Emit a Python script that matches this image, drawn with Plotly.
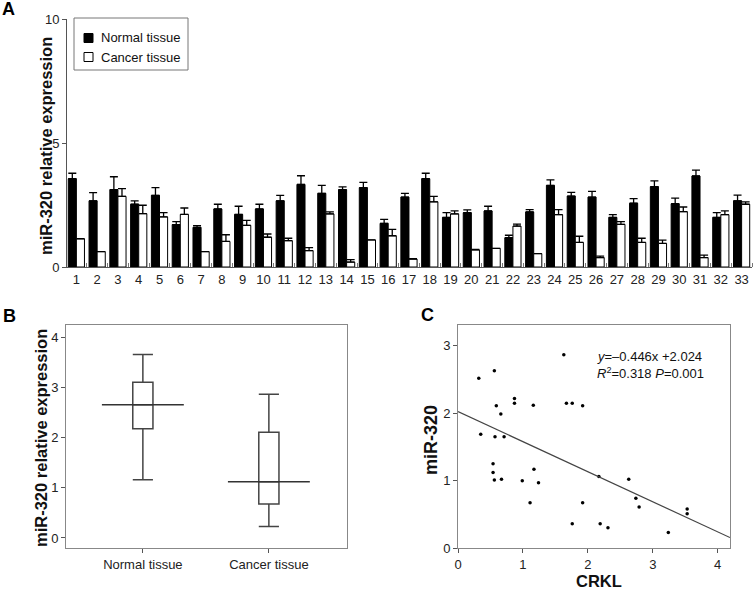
import plotly.graph_objects as go

# ---------------- Panel A data ----------------
samples = list(range(1, 34))
normal_vals = [3.56, 2.67, 3.12, 2.53, 2.89, 1.71, 1.60, 2.34, 2.12, 2.34, 2.67,
               3.33, 2.97, 3.12, 3.20, 1.76, 2.82, 3.56, 2.00, 2.19, 2.26, 1.18,
               2.22, 3.29, 2.86, 2.82, 2.00, 2.57, 3.24, 2.55, 3.67, 2.00, 2.67]
normal_err = [0.22, 0.33, 0.52, 0.14, 0.31, 0.12, 0.07, 0.19, 0.33, 0.19, 0.22,
              0.35, 0.32, 0.11, 0.21, 0.16, 0.15, 0.22, 0.19, 0.11, 0.19, 0.10,
              0.09, 0.22, 0.15, 0.23, 0.11, 0.19, 0.23, 0.23, 0.24, 0.19, 0.23]
cancer_vals = [1.14, 0.62, 2.85, 2.15, 2.02, 2.12, 0.62, 1.03, 1.68, 1.20, 1.06,
               0.66, 2.14, 0.20, 1.09, 1.26, 0.32, 2.63, 2.14, 0.69, 0.75, 1.65,
               0.54, 2.11, 0.99, 0.38, 1.72, 0.99, 0.95, 2.23, 0.38, 2.11, 2.53]
cancer_err = [0.0, 0.0, 0.31, 0.34, 0.17, 0.26, 0.0, 0.27, 0.20, 0.13, 0.10,
              0.12, 0.08, 0.10, 0.0, 0.26, 0.02, 0.22, 0.12, 0.02, 0.0, 0.08,
              0.0, 0.20, 0.25, 0.06, 0.11, 0.17, 0.13, 0.19, 0.10, 0.15, 0.10]
series_names = ["Normal tissue", "Cancer tissue"]

# ---------------- Panel B data ----------------
box_labels = ["Normal tissue", "Cancer tissue"]
box_pos = [0, 1]
box_low = [1.16, 0.23]
box_q1 = [2.18, 0.68]
box_median = [2.66, 1.12]
box_q3 = [3.11, 2.11]
box_high = [3.66, 2.87]

# ---------------- Panel C data ----------------
crkl = [0.32, 0.56, 0.35, 0.59, 0.66, 0.57, 0.71, 0.87, 0.87, 1.16, 0.54,
        0.54, 0.56, 0.67, 0.99, 1.17, 1.24, 1.11, 1.63, 1.67, 1.76, 1.92,
        1.92, 1.76, 2.17, 2.19, 2.31, 2.63, 2.74, 2.79, 3.24, 3.53, 3.53]
mir320 = [2.52, 2.63, 1.69, 2.11, 1.99, 1.65, 1.65, 2.22, 2.15, 2.12, 1.25,
          1.12, 1.01, 1.02, 1.00, 1.17, 0.97, 0.67, 2.87, 2.15, 2.15, 2.11,
          0.67, 0.36, 1.06, 0.36, 0.30, 1.02, 0.74, 0.61, 0.23, 0.58, 0.51]
slope = -0.446
intercept = 2.024
fit_x = [0, 4.19]

FONT = "Liberation Sans, Arial, sans-serif"
W, H = 754, 589


def px(x):
    return x / W


def py(y):
    return 1 - y / H


fig = go.Figure()

# Panel A bars
fig.add_trace(go.Bar(
    x=samples, y=normal_vals, name=series_names[0], showlegend=False,
    marker=dict(color="black", line=dict(color="black", width=1)),
    error_y=dict(type="data", array=normal_err, arrayminus=[0] * len(normal_err),
                 symmetric=False, color="black", thickness=1.3, width=4),
    xaxis="x", yaxis="y"))
fig.add_trace(go.Bar(
    x=samples, y=cancer_vals, name=series_names[1], showlegend=False,
    marker=dict(color="white", line=dict(color="black", width=1)),
    error_y=dict(type="data", array=cancer_err, arrayminus=[0] * len(cancer_err),
                 symmetric=False, color="black", thickness=1.3, width=4),
    xaxis="x", yaxis="y"))

# Panel B boxes
fig.add_trace(go.Box(
    x=box_pos, q1=box_q1, median=box_median, q3=box_q3,
    lowerfence=box_low, upperfence=box_high,
    fillcolor="white", line=dict(color="#444444", width=1.5),
    width=0.16, whiskerwidth=1, showlegend=False,
    xaxis="x2", yaxis="y2"))
med_x, med_y = [], []
for p, m in zip(box_pos, box_median):
    med_x += [p - 0.325, p + 0.325, None]
    med_y += [m, m, None]
fig.add_trace(go.Scatter(
    x=med_x, y=med_y, mode="lines", line=dict(color="#333333", width=1.5),
    showlegend=False, hoverinfo="skip", xaxis="x2", yaxis="y2"))

# Panel C scatter + fit
fig.add_trace(go.Scatter(
    x=crkl, y=mir320, mode="markers", marker=dict(color="black", size=3.5),
    showlegend=False, xaxis="x3", yaxis="y3"))
fig.add_trace(go.Scatter(
    x=fit_x, y=[intercept + slope * v for v in fit_x], mode="lines",
    line=dict(color="#444444", width=1.2), showlegend=False,
    xaxis="x3", yaxis="y3"))

axis_common = dict(showgrid=False, zeroline=False, showline=True, automargin=False,
                   ticks="outside", ticklen=4, tickcolor="#555555",
                   tickfont=dict(size=13, color="#222222", family=FONT))

fig.update_layout(
    width=W, height=H, margin=dict(l=0, r=0, t=0, b=0, autoexpand=False),
    paper_bgcolor="white", plot_bgcolor="white",
    font=dict(family=FONT, color="#222222"),
    barmode="group", bargap=0.22, bargroupgap=0, showlegend=False,
    xaxis=dict(domain=[px(67), px(752)], anchor="y", range=[0.55, 33.5],
               tickmode="array", tickvals=samples, ticktext=[str(s) for s in samples],
               showgrid=False, zeroline=False, showline=True, linecolor="#555555",
               automargin=False,
               ticks="", tickfont=dict(size=13, color="#222222", family=FONT),
               minor=dict(tick0=0.5, dtick=1, ticks="inside", ticklen=4,
                          tickcolor="#777777", showgrid=False)),
    yaxis=dict(domain=[py(267), py(19)], anchor="x", range=[0, 10],
               tickvals=[0, 5, 10], linecolor="#555555", **axis_common),
    xaxis2=dict(domain=[px(66), px(347)], anchor="y2", range=[-0.61, 1.62],
                tickmode="array", tickvals=box_pos, ticktext=box_labels,
                mirror=True, linecolor="#888888", **axis_common),
    yaxis2=dict(domain=[py(548), py(325)], anchor="x2", range=[-0.2, 4.25],
                tickvals=[0, 1, 2, 3, 4], mirror=True, linecolor="#888888",
                **axis_common),
    xaxis3=dict(domain=[px(458), px(730)], anchor="y3", range=[0, 4.19],
                tickvals=[0, 1, 2, 3, 4], mirror=True, linecolor="#888888",
                **axis_common),
    yaxis3=dict(domain=[py(548), py(325)], anchor="x3", range=[0, 3.31],
                tickvals=[0, 1, 2, 3], mirror=True, linecolor="#888888",
                **axis_common),
)


def text(t, x, y, size, bold=False, angle=0, xanchor="center", color="#111111"):
    f = dict(size=size, color=color, family=FONT)
    if bold:
        f["weight"] = "bold"
    fig.add_annotation(text=t, x=px(x), y=py(y), xref="paper", yref="paper",
                       xanchor=xanchor, yanchor="middle", showarrow=False,
                       textangle=angle, font=f)


# Axis titles
text("miR-320 relative expression", 46, 146, 16.5, bold=True, angle=-90)
text("miR-320 relative expression", 41, 438, 16.5, bold=True, angle=-90)
text("miR-320", 431, 440, 18, bold=True, angle=-90)
text("CRKL", 599, 580.5, 16.5, bold=True)

# Panel letters
text("A", 8, 9, 18, bold=True, color="black")
text("B", 9, 316, 18, bold=True, color="black")
text("C", 428, 315, 18, bold=True, color="black")

# Equation
text("<i>y</i>=\u20130.446x +2.024", 595, 357, 13, xanchor="left")
text("<i>R</i><sup>2</sup>=0.318 <i>P</i>=0.001", 595, 373, 13, xanchor="left")

# Legend (box, swatches, labels)
fig.add_shape(type="rect", xref="paper", yref="paper",
              x0=px(74), x1=px(188), y0=py(70), y1=py(18),
              line=dict(color="#777777", width=1), fillcolor="white", layer="above")
swatch_fill = ["black", "white"]
for i, (name, fill) in enumerate(zip(series_names, swatch_fill)):
    cy = 38 + 19 * i
    fig.add_shape(type="rect", xref="paper", yref="paper",
                  x0=px(84), x1=px(93), y0=py(cy + 4.5), y1=py(cy - 4.5),
                  line=dict(color="black", width=1), fillcolor=fill, layer="above")
    text(name, 99, cy, 13, xanchor="left")

fig.write_html("out.html",
               config={"displayModeBar": False},
               post_script="document.body.style.margin='0';document.body.style.overflow='hidden';")
